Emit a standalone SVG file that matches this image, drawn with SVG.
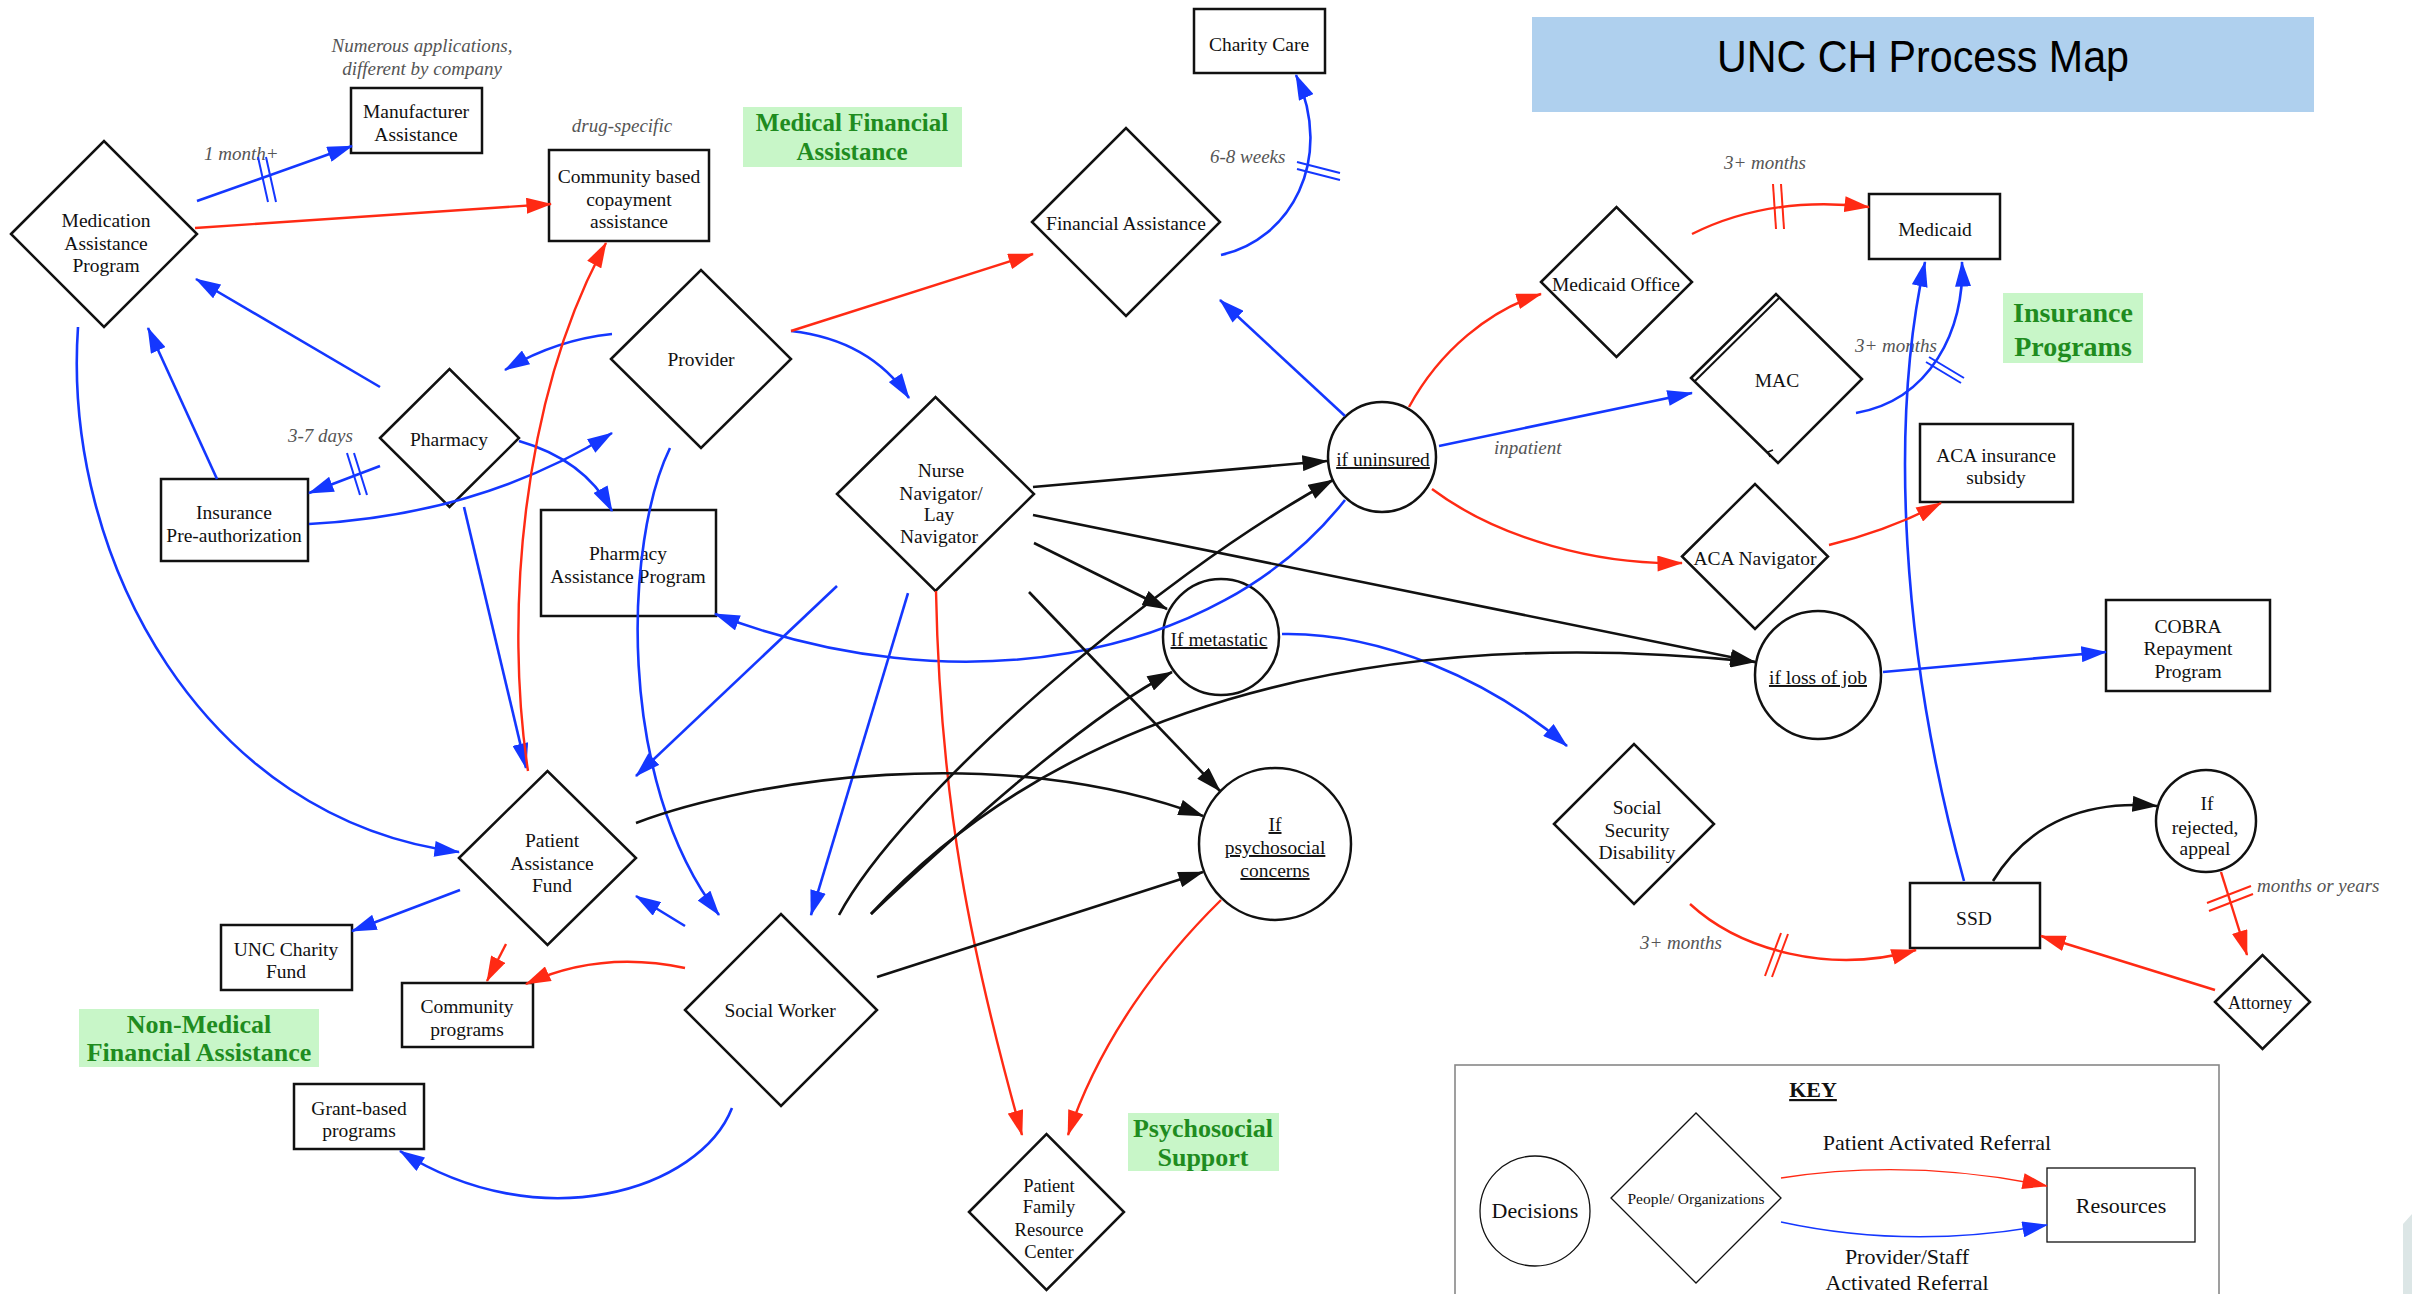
<svg xmlns="http://www.w3.org/2000/svg" width="2412" height="1294" viewBox="0 0 2412 1294">
<style>
.sh{fill:#fff;stroke:#111;stroke-width:2.5}
.nf{fill:none}
.ks{fill:#fff;stroke:#111;stroke-width:1.3}
.n{font-family:"Liberation Serif",serif;font-size:19.5px;text-anchor:middle;fill:#111}
.u{text-decoration:underline}
.i{font-family:"Liberation Serif",serif;font-style:italic;font-size:19px;fill:#555}
.g{font-family:"Liberation Serif",serif;font-weight:bold;font-size:26px;text-anchor:middle;fill:#1f8c1f}
.gb{fill:#c8f6c8}
.k{font-family:"Liberation Serif",serif;font-size:22px;text-anchor:middle;fill:#111}
.b{fill:none;stroke:#1437ff;stroke-width:2.6}
.r{fill:none;stroke:#ff2a14;stroke-width:2.4}
.k1{fill:none;stroke:#111;stroke-width:2.6}
.bh{stroke:#1437ff;stroke-width:2}
.rh{stroke:#ff2a14;stroke-width:2}
</style>
<defs>
<marker id="ab" markerUnits="userSpaceOnUse" markerWidth="26" markerHeight="16" viewBox="0 0 24 15" refX="23" refY="7.5" orient="auto"><path d="M0,0 L24,7.5 L0,15 z" fill="#1437ff"/></marker>
<marker id="ar" markerUnits="userSpaceOnUse" markerWidth="26" markerHeight="16" viewBox="0 0 24 15" refX="23" refY="7.5" orient="auto"><path d="M0,0 L24,7.5 L0,15 z" fill="#ff2a14"/></marker>
<marker id="ak" markerUnits="userSpaceOnUse" markerWidth="26" markerHeight="16" viewBox="0 0 24 15" refX="23" refY="7.5" orient="auto"><path d="M0,0 L24,7.5 L0,15 z" fill="#111"/></marker>
</defs>
<rect width="2412" height="1294" fill="#fff"/>
<polygon points="2403,1224 2412,1214 2412,1294 2403,1294" fill="#dce6e6"/>

<g id="title"><rect x="1532" y="17" width="782" height="95" fill="#afd0ee"/><text x="1923" y="72" font-family="Liberation Sans, sans-serif" font-size="45" text-anchor="middle" textLength="412" lengthAdjust="spacingAndGlyphs" fill="#000">UNC CH Process Map</text></g>

<g id="labels">
<rect class="gb" x="743" y="107" width="219" height="60"/><text class="g" x="852" y="131" style="font-size:25px">Medical Financial</text><text class="g" x="852" y="160" style="font-size:25px">Assistance</text>
<rect class="gb" x="2003" y="293" width="140" height="70"/><text class="g" x="2073" y="322" style="font-size:28px">Insurance</text><text class="g" x="2073" y="356" style="font-size:28px">Programs</text>
<rect class="gb" x="79" y="1009" width="240" height="58"/><text class="g" x="199" y="1033">Non-Medical</text><text class="g" x="199" y="1061">Financial Assistance</text>
<rect class="gb" x="1128" y="1113" width="151" height="58"/><text class="g" x="1203" y="1137">Psychosocial</text><text class="g" x="1203" y="1166">Support</text>
<text class="i" x="422" y="52" text-anchor="middle">Numerous applications,</text>
<text class="i" x="422" y="75" text-anchor="middle">different by company</text>
<text class="i" x="622" y="132" text-anchor="middle">drug-specific</text>
<text class="i" x="204" y="160">1 month+</text>
<text class="i" x="288" y="442">3-7 days</text>
<text class="i" x="1210" y="163">6-8 weeks</text>
<text class="i" x="1724" y="169">3+ months</text>
<text class="i" x="1855" y="352">3+ months</text>
<text class="i" x="1494" y="454">inpatient</text>
<text class="i" x="1640" y="949">3+ months</text>
<text class="i" x="2257" y="892">months or years</text>
</g>

<g id="medication-assistance-program"><polygon class="sh" points="11,234 104,141 197,234 104,327"/><text class="n" x="106" y="227">Medication</text><text class="n" x="106" y="250">Assistance</text><text class="n" x="106" y="272">Program</text></g>
<g id="manufacturer-assistance"><rect class="sh" x="351" y="88" width="131" height="65"/><text class="n" x="416" y="118">Manufacturer</text><text class="n" x="416" y="141">Assistance</text></g>
<g id="community-copay"><rect class="sh" x="549" y="150" width="160" height="91"/><text class="n" x="629" y="183">Community based</text><text class="n" x="629" y="206">copayment</text><text class="n" x="629" y="228">assistance</text></g>
<g id="pharmacy"><polygon class="sh" points="380,438 449.5,369 519,438 449.5,507"/><text class="n" x="449" y="446">Pharmacy</text></g>
<g id="provider"><polygon class="sh" points="611,359 701,270 791,359 701,448"/><text class="n" x="701" y="366">Provider</text></g>
<g id="insurance-preauth"><rect class="sh" x="161" y="479" width="147" height="82"/><text class="n" x="234" y="519">Insurance</text><text class="n" x="234" y="542">Pre-authorization</text></g>
<g id="pharmacy-assistance-program"><rect class="sh nf" x="541" y="510" width="175" height="106"/><text class="n" x="628" y="560">Pharmacy</text><text class="n" x="628" y="583">Assistance Program</text></g>
<g id="patient-assistance-fund"><polygon class="sh" points="459,858 547.5,771 636,858 547.5,945"/><text class="n" x="552" y="847">Patient</text><text class="n" x="552" y="870">Assistance</text><text class="n" x="552" y="892">Fund</text></g>
<g id="unc-charity-fund"><rect class="sh" x="221" y="925" width="131" height="65"/><text class="n" x="286" y="956">UNC Charity</text><text class="n" x="286" y="978">Fund</text></g>
<g id="community-programs"><rect class="sh" x="402" y="983" width="131" height="64"/><text class="n" x="467" y="1013">Community</text><text class="n" x="467" y="1036">programs</text></g>
<g id="grant-based-programs"><rect class="sh" x="294" y="1084" width="130" height="65"/><text class="n" x="359" y="1115">Grant-based</text><text class="n" x="359" y="1137">programs</text></g>
<g id="social-worker"><polygon class="sh" points="685,1010 781,914 877,1010 781,1106"/><text class="n" x="780" y="1017">Social Worker</text></g>
<g id="nurse-navigator"><polygon class="sh" points="837,494 935.5,397 1034,494 935.5,591"/><text class="n" x="941" y="477">Nurse</text><text class="n" x="941" y="500">Navigator/</text><text class="n" x="939" y="521">Lay</text><text class="n" x="939" y="543">Navigator</text></g>
<g id="financial-assistance"><polygon class="sh" points="1032,222 1126,128 1220,222 1126,316"/><text class="n" x="1126" y="230">Financial Assistance</text></g>
<g id="charity-care"><rect class="sh" x="1194" y="9" width="131" height="64"/><text class="n" x="1259" y="51">Charity Care</text></g>
<g id="if-uninsured"><ellipse class="sh" cx="1382" cy="457" rx="54" ry="55"/><text class="n u" x="1383" y="466">if uninsured</text></g>
<g id="medicaid-office"><polygon class="sh" points="1541,282 1616.5,207 1692,282 1616.5,357"/><text class="n" x="1616" y="291">Medicaid Office</text></g>
<g id="medicaid"><rect class="sh" x="1869" y="194" width="131" height="65"/><text class="n" x="1935" y="236">Medicaid</text></g>
<g id="mac"><polygon class="sh" points="1691,378 1776,294 1862,379 1778,463"/><line x1="1695" y1="381" x2="1779" y2="298" stroke="#111" stroke-width="2"/><path d="M1770,457 L1768,452 L1773,450" fill="none" stroke="#111" stroke-width="1.5"/><text class="n" x="1777" y="387">MAC</text></g>
<g id="aca-subsidy"><rect class="sh" x="1920" y="424" width="153" height="78"/><text class="n" x="1996" y="462">ACA insurance</text><text class="n" x="1996" y="484">subsidy</text></g>
<g id="aca-navigator"><polygon class="sh" points="1682,556.5 1755,484 1828,556.5 1755,629"/><text class="n" x="1755" y="565">ACA Navigator</text></g>
<g id="if-metastatic"><ellipse class="sh nf" cx="1221" cy="637" rx="58" ry="58"/><text class="n u" x="1219" y="646">If metastatic</text></g>
<g id="if-psychosocial"><ellipse class="sh" cx="1275" cy="844" rx="76" ry="76"/><text class="n u" x="1275" y="831">If</text><text class="n u" x="1275" y="854">psychosocial</text><text class="n u" x="1275" y="877">concerns</text></g>
<g id="if-loss-of-job"><ellipse class="sh" cx="1818" cy="675" rx="63" ry="64"/><text class="n u" x="1818" y="684">if loss of job</text></g>
<g id="cobra"><rect class="sh" x="2106" y="600" width="164" height="91"/><text class="n" x="2188" y="633">COBRA</text><text class="n" x="2188" y="655">Repayment</text><text class="n" x="2188" y="678">Program</text></g>
<g id="social-security-disability"><polygon class="sh" points="1554,824 1634,744 1714,824 1634,904"/><text class="n" x="1637" y="814">Social</text><text class="n" x="1637" y="837">Security</text><text class="n" x="1637" y="859">Disability</text></g>
<g id="ssd"><rect class="sh" x="1910" y="883" width="130" height="65"/><text class="n" x="1974" y="925">SSD</text></g>
<g id="if-rejected"><ellipse class="sh" cx="2206" cy="821" rx="50" ry="51"/><text class="n" x="2207" y="810">If</text><text class="n" x="2205" y="834">rejected,</text><text class="n" x="2205" y="855">appeal</text></g>
<g id="attorney"><polygon class="sh" points="2215,1002 2262.5,955 2310,1002 2262.5,1049"/><text class="n" x="2260" y="1009" style="font-size:18px">Attorney</text></g>
<g id="pfrc"><polygon class="sh" points="969,1212 1046.5,1134 1124,1212 1046.5,1290"/><text class="n" x="1049" y="1192" style="font-size:18.5px">Patient</text><text class="n" x="1049" y="1213" style="font-size:18.5px">Family</text><text class="n" x="1049" y="1236" style="font-size:18.5px">Resource</text><text class="n" x="1049" y="1258" style="font-size:18.5px">Center</text></g>

<g id="connectors">
<!-- blue -->
<path class="b" d="M197,201 L352,146" marker-end="url(#ab)"/>
<path class="b" d="M380,387 L196,279" marker-end="url(#ab)"/>
<path class="b" d="M217,479 L148,328" marker-end="url(#ab)"/>
<path class="b" d="M612,334 Q555,340 505,370" marker-end="url(#ab)"/>
<path class="b" d="M380,466 L309,493" marker-end="url(#ab)"/>
<path class="b" d="M309,524 Q480,515 612,433" marker-end="url(#ab)"/>
<path class="b" d="M519,441 Q585,460 612,511" marker-end="url(#ab)"/>
<path class="b" d="M464,507 L526,768" marker-end="url(#ab)"/>
<path class="b" d="M670,448 C625,540 615,780 719,915" stroke-width="2.2" marker-end="url(#ab)"/>
<path class="b" d="M78,327 C62,560 205,820 459,852" stroke-width="2.2" marker-end="url(#ab)"/>
<path class="b" d="M460,890 L352,931" marker-end="url(#ab)"/>
<path class="b" d="M685,926 L636,896" marker-end="url(#ab)"/>
<path class="b" d="M732,1108 C700,1190 540,1240 400,1151" marker-end="url(#ab)"/>
<path class="b" d="M837,586 L636,776" marker-end="url(#ab)"/>
<path class="b" d="M908,593 L811,915" marker-end="url(#ab)"/>
<path class="b" d="M791,331 Q870,340 909,398" marker-end="url(#ab)"/>
<path class="b" d="M1221,255 C1290,240 1335,160 1296,75" marker-end="url(#ab)"/>
<path class="b" d="M1345,416 L1220,300" marker-end="url(#ab)"/>
<path class="b" d="M1439,446 L1692,393" marker-end="url(#ab)"/>
<path class="b" d="M1856,413 C1930,400 1965,330 1962,262" marker-end="url(#ab)"/>
<path class="b" d="M1964,881 C1900,650 1890,420 1925,262" stroke-width="2" marker-end="url(#ab)"/>
<path class="b" d="M1883,672 L2106,652" marker-end="url(#ab)"/>
<path class="b" d="M1282,634 C1380,632 1490,680 1567,746" marker-end="url(#ab)"/>
<path class="b" d="M1345,500 C1215,665 950,705 715,614" marker-end="url(#ab)"/>
<line class="bh" x1="258" y1="157" x2="268" y2="202"/><line class="bh" x1="266" y1="157" x2="276" y2="202"/>
<line class="bh" x1="347" y1="453" x2="360" y2="495"/><line class="bh" x1="354" y1="453" x2="367" y2="495"/>
<line class="bh" x1="1297" y1="162" x2="1340" y2="173"/><line class="bh" x1="1297" y1="169" x2="1340" y2="180"/>
<line class="bh" x1="1929" y1="357" x2="1964" y2="378"/><line class="bh" x1="1926" y1="362" x2="1961" y2="383"/>
<!-- red -->
<path class="r" d="M195,228 L551,204" marker-end="url(#ar)"/>
<path class="r" d="M528,771 C505,620 520,400 606,243" stroke-width="2" marker-end="url(#ar)"/>
<path class="r" d="M791,331 L1033,254" marker-end="url(#ar)"/>
<path class="r" d="M506,944 L487,981" marker-end="url(#ar)"/>
<path class="r" d="M685,968 Q600,950 526,984" marker-end="url(#ar)"/>
<path class="r" d="M936,591 C940,800 970,950 1022,1135" stroke-width="2" marker-end="url(#ar)"/>
<path class="r" d="M1221,900 C1160,960 1100,1040 1068,1135" stroke-width="2" marker-end="url(#ar)"/>
<path class="r" d="M1409,407 C1440,350 1490,310 1541,294" marker-end="url(#ar)"/>
<path class="r" d="M1692,234 C1750,205 1810,200 1869,207" marker-end="url(#ar)"/>
<path class="r" d="M1432,489 C1500,540 1600,565 1682,563" marker-end="url(#ar)"/>
<path class="r" d="M1829,545 Q1890,530 1941,503" marker-end="url(#ar)"/>
<path class="r" d="M1690,904 C1740,950 1830,975 1916,950" marker-end="url(#ar)"/>
<path class="r" d="M2221,872 L2247,955" marker-end="url(#ar)"/>
<path class="r" d="M2215,990 L2041,936" marker-end="url(#ar)"/>
<line class="rh" x1="1773" y1="184" x2="1776" y2="229"/><line class="rh" x1="1781" y1="184" x2="1784" y2="229"/>
<line class="rh" x1="1765" y1="976" x2="1781" y2="933"/><line class="rh" x1="1772" y1="977" x2="1788" y2="934"/>
<line class="rh" x1="2207" y1="903" x2="2251" y2="886"/><line class="rh" x1="2209" y1="911" x2="2253" y2="894"/>
<!-- black -->
<path class="k1" d="M1033,487 L1327,461" marker-end="url(#ak)"/>
<path class="k1" d="M839,915 C900,800 1150,580 1333,480" marker-end="url(#ak)"/>
<path class="k1" d="M1034,543 L1167,609" marker-end="url(#ak)"/>
<path class="k1" d="M1029,592 L1220,791" marker-end="url(#ak)"/>
<path class="k1" d="M1033,515 L1755,662" marker-end="url(#ak)"/>
<path class="k1" d="M871,914 C950,840 1080,720 1172,672" marker-end="url(#ak)"/>
<path class="k1" d="M871,914 C1050,720 1350,620 1755,662" marker-end="url(#ak)"/>
<path class="k1" d="M877,977 L1203,872" marker-end="url(#ak)"/>
<path class="k1" d="M636,823 C750,780 1000,740 1203,816" marker-end="url(#ak)"/>
<path class="k1" d="M1993,881 C2030,820 2090,800 2157,806" marker-end="url(#ak)"/>
</g>

<g id="key">
<rect x="1455" y="1065" width="764" height="260" fill="none" stroke="#888" stroke-width="1.6"/>
<text class="k u" x="1813" y="1097" font-weight="bold">KEY</text>
<ellipse class="ks" cx="1535" cy="1211" rx="55" ry="55"/><text class="k" x="1535" y="1218">Decisions</text>
<polygon class="ks" points="1611,1198 1696,1113 1781,1198 1696,1283"/><text class="k" x="1696" y="1204" style="font-size:15.5px">People/ Organizations</text>
<rect class="ks" x="2047" y="1168" width="148" height="74"/><text class="k" x="2121" y="1213">Resources</text>
<path d="M1781,1178 Q1910,1158 2047,1186" fill="none" stroke="#ff2a14" stroke-width="1.4" marker-end="url(#ar)"/>
<path d="M1781,1222 Q1910,1250 2047,1225" fill="none" stroke="#1437ff" stroke-width="1.4" marker-end="url(#ab)"/>
<text class="k" x="1937" y="1150">Patient Activated Referral</text>
<text class="k" x="1907" y="1264">Provider/Staff</text>
<text class="k" x="1907" y="1290">Activated Referral</text>
</g>
</svg>
